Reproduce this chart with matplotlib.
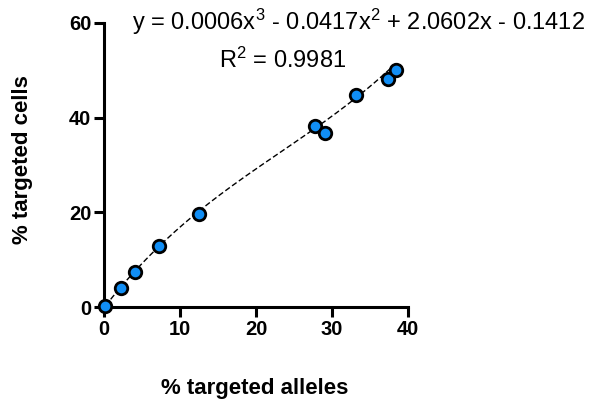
import matplotlib
matplotlib.use("Agg")
import matplotlib.pyplot as plt
import numpy as np

plt.rcParams['font.family'] = ['Liberation Sans', 'DejaVu Sans']
plt.rcParams['mathtext.default'] = 'regular'

# data
alleles = [0.2, 2.2, 4.1, 7.2, 12.5, 27.8, 29.1, 33.2, 37.4, 38.4]
cells = [0.3, 4.0, 7.5, 12.9, 19.7, 38.2, 36.8, 44.7, 48.1, 50.0]
fit_coef = [0.0006, -0.0417, 2.0602, -0.1412]  # cubic trendline
x_ticks = [0, 10, 20, 30, 40]
y_ticks = [0, 20, 40, 60]

fig = plt.figure(figsize=(5.94, 4.03), dpi=100)
ax = fig.add_axes([0.175, 0.238, 0.512, 0.705])

xf = np.linspace(min(alleles), max(alleles), 200)
ax.plot(xf, np.polyval(fit_coef, xf), color='black', lw=1, ls=(0, (4, 2)), zorder=2)
ax.plot(alleles, cells, 'o', ms=9, mfc='#118ef5', mec='black', mew=2,
        clip_on=False, zorder=3)

ax.set_xlim(0, 40)
ax.set_ylim(0, 60)
ax.set_xticks(x_ticks)
ax.set_yticks(y_ticks)
for s in ['top', 'right']:
    ax.spines[s].set_visible(False)
for s in ['left', 'bottom']:
    ax.spines[s].set_linewidth(2.2)
ax.tick_params(width=2.2, length=7, labelsize=14.5, pad=2)
for lab in ax.get_xticklabels() + ax.get_yticklabels():
    lab.set_fontweight('bold')

ax.set_xlabel('% targeted alleles', fontsize=16, fontweight='bold')
ax.set_ylabel('% targeted cells', fontsize=16, fontweight='bold')
ax.xaxis.set_label_coords(0.497, -0.25)
ax.yaxis.set_label_coords(-0.232, 0.52)

fig.text(0.604, 0.945, r"y = 0.0006x$^3$ - 0.0417x$^2$ + 2.0602x - 0.1412",
         ha='center', va='center', fontsize=17)
fig.text(0.476, 0.851, r"R$^2$ = 0.9981", ha='center', va='center', fontsize=17)

fig.savefig('out.png', dpi=100)
